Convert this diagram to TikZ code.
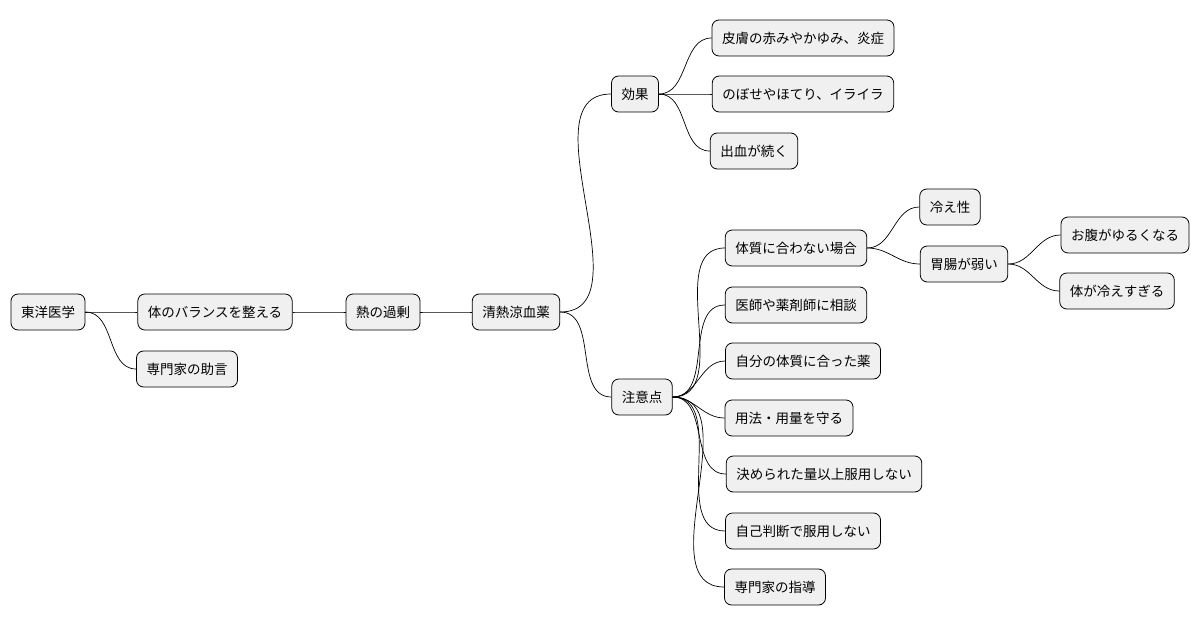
\documentclass[tikz,border=0pt]{standalone}
\usepackage{fontspec}
\setmainfont{Noto Sans CJK JP}
\begin{document}
\begin{tikzpicture}[x=1pt,y=-1pt,
  nd/.style={draw=black,fill=black!6,rounded corners=7pt,minimum height=36pt,inner xsep=10pt,font=\fontsize{13.5pt}{16pt}\selectfont,line width=0.8pt},
  ln/.style={line width=0.7pt}]
\useasboundingbox (0,0) rectangle (1202,626);
\node[nd] (a) at (48,312) {東洋医学};
\node[nd] (b) at (215,312) {体のバランスを整える};
\node[nd] (c) at (187,369) {専門家の助言};
\node[nd] (d) at (383,312) {熱の過剰};
\node[nd] (e) at (516,312) {清熱涼血薬};
\node[nd] (f) at (635,94) {効果};
\node[nd] (f1) at (803,38) {皮膚の赤みやかゆみ、炎症};
\node[nd] (f2) at (803,94) {のぼせやほてり、イライラ};
\node[nd] (f3) at (754,151) {出血が続く};
\node[nd] (g) at (642,397) {注意点};
\node[nd] (g1) at (796,248) {体質に合わない場合};
\node[nd] (h1) at (950,207) {冷え性};
\node[nd] (h2) at (964,264) {胃腸が弱い};
\node[nd] (i1) at (1125,235) {お腹がゆるくなる};
\node[nd] (i2) at (1117,291) {体が冷えすぎる};
\node[nd] (g2) at (796,305) {医師や薬剤師に相談};
\node[nd] (g3) at (803,361) {自分の体質に合った薬};
\node[nd] (g4) at (789,418) {用法・用量を守る};
\node[nd] (g5) at (824,474) {決められた量以上服用しない};
\node[nd] (g6) at (803,531) {自己判断で服用しない};
\node[nd] (g7) at (775,587) {専門家の指導};
\foreach \p/\c in {a/b,a/c,b/d,d/e,e/f,e/g,f/f1,f/f2,f/f3,g/g1,g/g2,g/g3,g/g4,g/g5,g/g6,g/g7,g1/h1,g1/h2,h2/i1,h2/i2}
  \draw[ln] (\p.east) to[out=0,in=180] (\c.west);
\end{tikzpicture}
\end{document}
